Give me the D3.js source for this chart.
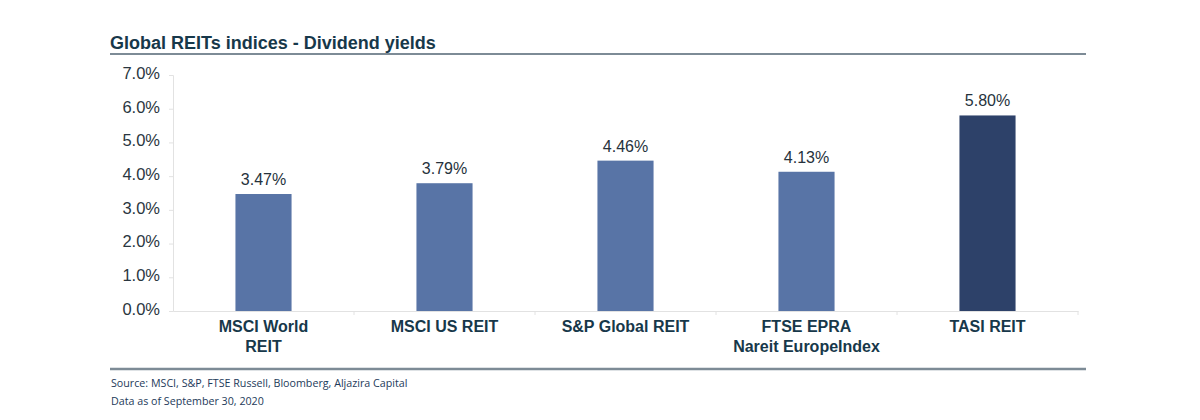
<!DOCTYPE html>
<html><head><meta charset="utf-8">
<script src="https://cdn.jsdelivr.net/npm/d3@7"></script>
<style>
html,body{margin:0;padding:0;background:#fff;}
svg{display:block;}
</style></head>
<body>
<svg id="c" width="1200" height="420"></svg>
<script>
const categories = ["MSCI World\nREIT", "MSCI US REIT", "S&P Global REIT", "FTSE EPRA\nNareit EuropeIndex", "TASI REIT"];
const values = [3.47, 3.79, 4.46, 4.13, 5.80];
const valueLabels = ["3.47%", "3.79%", "4.46%", "4.13%", "5.80%"];
const yTicks = [0, 1, 2, 3, 4, 5, 6, 7];
const highlight = ["TASI REIT"];
const title = "Global REITs indices - Dividend yields";
const notes = ["Source: MSCI, S&P, FTSE Russell, Bloomberg, Aljazira Capital", "Data as of September 30, 2020"];

const svg = d3.select("#c");
const plotLeft = 173, plotRight = 1078, plotTop = 75, plotBottom = 311;

const x = d3.scaleBand().domain(categories).range([plotLeft, plotRight]).paddingInner(0.69).paddingOuter(0.345);
const y = d3.scaleLinear().domain([0, 7]).range([plotBottom, plotTop]);

// title
svg.append("text").attr("x", 110).attr("y", 48.5)
  .attr("font-family", "Liberation Sans, Arial, sans-serif").attr("font-weight", "bold")
  .attr("font-size", 18).attr("fill", "#17384a").text(title);
svg.append("line").attr("x1", 110).attr("x2", 1086).attr("y1", 54).attr("y2", 54)
  .attr("stroke", "#7d8b96").attr("stroke-width", 2);

// y axis
const yAxis = d3.axisLeft(y).tickValues(yTicks).tickFormat(d => d.toFixed(1) + "%").tickSize(4).tickPadding(9);
const ya = svg.append("g").attr("transform", `translate(${plotLeft},0)`).call(yAxis);
ya.select(".domain").attr("stroke", "#e2e2e2");
ya.selectAll(".tick line").attr("stroke", "#e2e2e2");
ya.selectAll(".tick text").attr("font-family", "Liberation Sans, Arial, sans-serif")
  .attr("font-size", 16.5).attr("fill", "#2a3640").attr("dy", "0.2em");

// x axis
const xAxis = d3.axisBottom(x).tickSize(0).tickFormat("");
const xa = svg.append("g").attr("transform", `translate(0,${plotBottom})`).call(xAxis);
xa.select(".domain").attr("stroke", "#e2e2e2");
const step = x.step();
const seps = categories.map(c => x(c) + x.bandwidth() / 2 + step / 2);
svg.append("g").selectAll("line").data(seps).join("line")
  .attr("x1", d => d).attr("x2", d => d).attr("y1", plotBottom).attr("y2", plotBottom + 4)
  .attr("stroke", "#e2e2e2");

// bars
svg.append("g").selectAll("rect").data(categories).join("rect")
  .attr("x", d => x(d)).attr("width", x.bandwidth())
  .attr("y", (d, i) => y(values[i])).attr("height", (d, i) => y(0) - y(values[i]))
  .attr("fill", d => highlight.includes(d) ? "#2d4169" : "#5874a6");

// value labels
svg.append("g").selectAll("text").data(categories).join("text")
  .attr("x", d => x(d) + x.bandwidth() / 2).attr("y", (d, i) => y(values[i]) - 9)
  .attr("text-anchor", "middle").attr("font-family", "Liberation Sans, Arial, sans-serif")
  .attr("font-size", 16).attr("fill", "#26323c").text((d, i) => valueLabels[i]);

// category labels
const cl = svg.append("g").selectAll("text").data(categories).join("text")
  .attr("x", d => x(d) + x.bandwidth() / 2).attr("y", plotBottom + 21)
  .attr("text-anchor", "middle").attr("font-family", "Liberation Sans, Arial, sans-serif")
  .attr("font-weight", "bold").attr("font-size", 16).attr("fill", "#17384a");
cl.each(function(d) {
  const t = d3.select(this);
  d.split("\n").forEach((s, i) => {
    t.append("tspan").attr("x", x(d) + x.bandwidth() / 2).attr("dy", i === 0 ? 0 : 20).text(s);
  });
});

// bottom rule
svg.append("line").attr("x1", 110).attr("x2", 1086).attr("y1", 369).attr("y2", 369)
  .attr("stroke", "#7d8b96").attr("stroke-width", 2.5);

// notes
svg.append("g").selectAll("text").data(notes).join("text")
  .attr("x", 111).attr("y", (d, i) => 386.5 + i * 18)
  .attr("font-family", "Open Sans, sans-serif").attr("font-size", 10.7)
  .attr("fill", "#1d3a5a").text(d => d);
</script>
</body></html>
